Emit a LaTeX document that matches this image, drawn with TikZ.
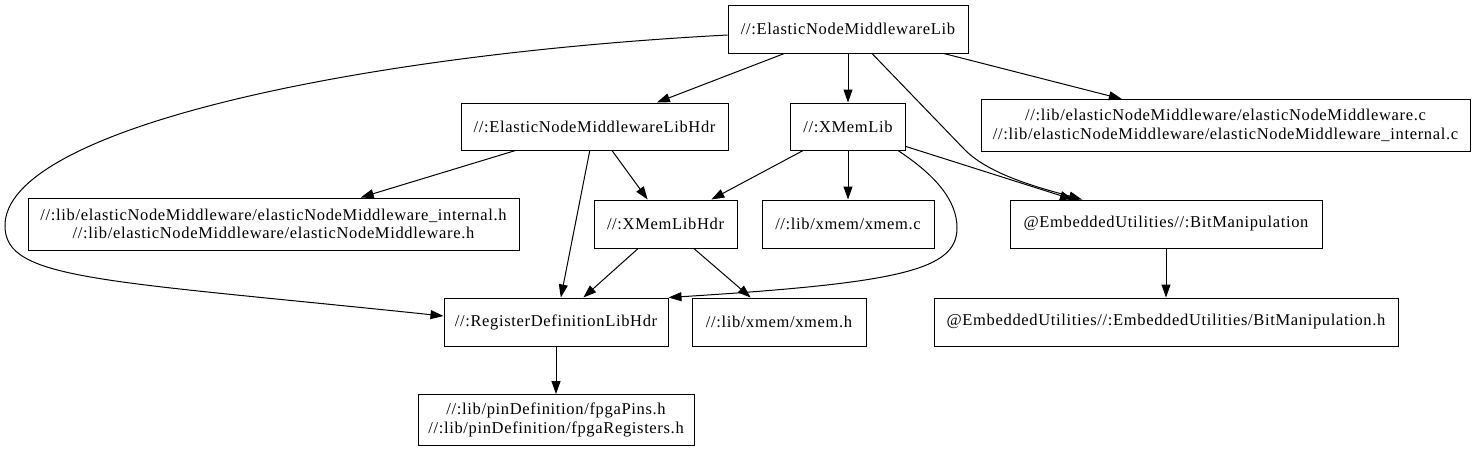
\documentclass[tikz,border=0pt]{standalone}
\usepackage{fontspec}
\setmainfont{Liberation Serif}[LetterSpace=4]
\usetikzlibrary{arrows.meta}
\begin{document}
\begin{tikzpicture}[x=1pt,y=-1pt,
  box/.style={draw, line width=1pt, rectangle, inner sep=0pt, align=center,
    minimum height=48pt, font=\fontsize{16.5}{18.7}\selectfont},
  edge/.style={line width=1pt, -{Triangle[length=13pt,width=9pt]}}]
\useasboundingbox (0,0) rectangle (1476,451);
% nodes
\node[box, minimum width=240pt] (n1) at (848,29) {//:ElasticNodeMiddlewareLib};
\node[box, minimum width=267pt, minimum height=47pt] (n2) at (594.5,126.5) {//:ElasticNodeMiddlewareLibHdr};
\node[box, minimum width=115pt, minimum height=47pt] (n3) at (848,126.5) {//:XMemLib};
\node[box, minimum width=489pt, minimum height=52pt] (n4) at (1225.5,125.5) {//:lib/elasticNodeMiddleware/elasticNodeMiddleware.c\\//:lib/elasticNodeMiddleware/elasticNodeMiddleware\_internal.c};
\node[box, minimum width=491pt, minimum height=52pt] (n5) at (273.5,224) {//:lib/elasticNodeMiddleware/elasticNodeMiddleware\_internal.h\\//:lib/elasticNodeMiddleware/elasticNodeMiddleware.h};
\node[box, minimum width=143pt] (n6) at (665.5,224) {//:XMemLibHdr};
\node[box, minimum width=172pt] (n7) at (848,224) {//:lib/xmem/xmem.c};
\node[box, minimum width=312pt] (n8) at (1166,224) {@EmbeddedUtilities//:BitManipulation};
\node[box, minimum width=224pt] (n9) at (556,322) {//:RegisterDefinitionLibHdr};
\node[box, minimum width=174pt] (n10) at (779,322) {//:lib/xmem/xmem.h};
\node[box, minimum width=464pt] (n11) at (1166,322) {@EmbeddedUtilities//:EmbeddedUtilities/BitManipulation.h};
\node[box, minimum width=276pt, minimum height=51pt] (n12) at (556,420) {//:lib/pinDefinition/fpgaPins.h\\//:lib/pinDefinition/fpgaRegisters.h};
% edges
\draw[edge] (n1) -- (n2);
\draw[edge] (n1.south) -- (n3.north);
\draw[edge] (n1) -- (n4);
\draw[edge] ([xshift=24pt]n1.south) -- (965,150) .. controls (990,175) and (1040,188) .. ([xshift=-84pt]n8.north);
\draw[edge] ([yshift=-6pt]n1.west) .. controls (350,55) and (4,130) .. (5,226)
  .. controls (5,280) and (100,280) .. ([yshift=6pt]n9.west);
\draw[edge] (n2) -- (n5);
\draw[edge] (n2) -- (n6);
\draw[edge] (n2) -- (n9);
\draw[edge] (n3) -- (n6);
\draw[edge] (n3.south) -- (n7.north);
\draw[edge] ([yshift=4pt]n3.south east) -- ([xshift=-93pt]n8.north);
\draw[edge] ([xshift=-8pt]n3.south east) .. controls (935,175) and (957,200) .. (957,228)
  .. controls (957,270) and (900,283) .. (n9.north east);
\draw[edge] (n6) -- (n9);
\draw[edge] (n6) -- (n10);
\draw[edge] (n8.south) -- (n11.north);
\draw[edge] (n9.south) -- (n12.north);
\end{tikzpicture}
\end{document}
